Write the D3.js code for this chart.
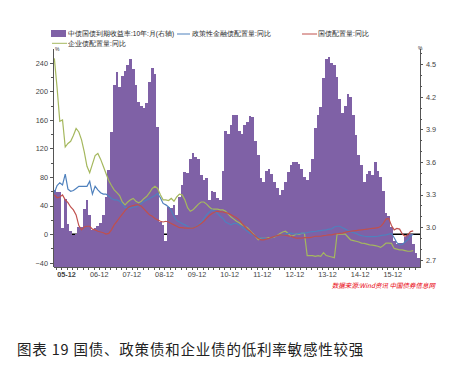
<!DOCTYPE html>
<html>
<head>
<meta charset="utf-8">
<script src="https://cdnjs.cloudflare.com/ajax/libs/d3/7.8.5/d3.min.js"></script>
<style>
body { margin: 0; background: #fff; }
text { font-family: "Liberation Sans", Arial, sans-serif; }
.cjk { font-family: "Noto Sans CJK SC", sans-serif; }
.axis path, .axis line { stroke: #555; shape-rendering: crispEdges; }
.axis text { fill: #444; font-size: 7.3px; }
</style>
</head>
<body>
<script>
// monthly data, first month = 2005-07
var startYear = 2005, startMonth = 7;

// 中债国债到期收益率:10年:月 (right axis, %)
var yield10y = [3.34,3.32,3.32,2.99,3.26,3.03,2.96,2.93,2.94,3.00,3.00,3.17,3.25,3.11,2.97,2.99,3.01,3.04,3.11,3.28,
  3.53,3.88,4.31,4.43,4.29,4.39,4.44,4.49,4.55,4.46,4.31,4.15,4.12,4.10,4.14,4.34,4.47,4.41,3.92,3.05,
  3.02,2.87,3.19,3.18,3.20,3.11,3.28,3.39,3.51,3.50,3.63,3.68,3.65,3.63,3.48,3.43,3.45,3.25,3.33,3.32,
  3.27,3.25,3.52,3.89,3.86,3.94,4.03,4.03,3.89,3.86,3.94,3.97,4.02,4.01,3.79,3.66,3.45,3.42,3.52,3.54,
  3.49,3.42,3.36,3.30,3.34,3.42,3.51,3.57,3.60,3.60,3.58,3.54,3.46,3.43,3.51,3.63,3.91,4.03,4.11,4.37,
  4.55,4.57,4.51,4.49,4.38,4.18,4.05,4.12,4.23,4.20,4.03,3.85,3.66,3.57,3.42,3.49,3.52,3.48,3.60,3.52,
  3.46,3.33,3.13,3.10,3.00,2.87,2.84,2.85,2.85,2.91,2.93,2.94,2.84,2.76,2.72];

// 政策性金融债配置量:同比 (left axis, %)
var policyBond = [58,68,72,69,84,63,60,61,64,67,67,67,67,74,56,67,62,58,56,56,
  53,50,48,48,46,42,37,37,36,38,38,40,43,46,48,50,52,54,57,51,
  43,41,38,33,25,19,17,15,13,11,9,9,10,13,17,22,27,31,34,32,
  29,25,22,17,15,13,15,15,13,10,7,4,1,-1,-3,-4,-5.6,-6,-6.6,-6,
  -5,-3,-2,-1.5,-0.5,0,1,1.4,0.5,0,1,1.4,1.4,2,3,3.5,3.7,4.5,5,5.5,
  6,7,7.4,10,11,11,9,7,5,3.5,2,1,-1,-2,-3,-3.5,-3.5,-3.5,-3.5,-3,
  -2,-1.5,-1,0,1,-5,-12,-15,-14.5,-11,-8,-3,0];

// 国债配置量:同比
var govBond = [55,51,52,55,48,44,38,34,27,12,6,10,11,11,7,6,4,3,2,0,
  1,6,13,18,23,28,33,37,39,40,41,41,39,35,31,27,25,22,20,18,
  17,18,17,15,13,11,9,9,8.5,8.4,8.4,8.4,10,12,15,18,22,26,29,31,
  32,31.5,31,30,29,27,25,23,20,15,11,7,4,0,-3,-6,-8,-8,-7,-6,
  -4.5,-3,-2,-1,-1.2,-1.6,-2.5,-3,-4.5,-5.6,-5.6,-5.5,-5,-5,-5,-4,-3,-3,-3,-2,
  -1.6,-1,-1,0,0.5,1,1.5,2.5,3.5,4,4.5,5,5.5,6,6.5,7,7.5,8,8.5,9,
  10.6,15,21,22,12,6,8,7,0,-3,-1,3.5,4.6];

// 企业债配置量:同比
var corpBond = [246,205,158,160,122,127,130,138,148,143,132,115,95,86,98,110,113,105,95,85,
  75,68,62,58,54,45,41,45,48,50,46,44,46,50,53,58,64,67,64,55,
  48,48,47,50,46,52,56,55,48,37,32,34,38,42,45,45,42,38,35,35,
  35,34,34,32,28,24,21,18,16,13,11,9,5,1,-3,-8,-6,-6,-6,-5,
  -5,-4,-2,1,3,4,1,-3,-2,0,0,1,1,-30,-30,-30,-31,-30,-31,-26,
  -30,-31,-32,-33,0,0,0,0,-4,-8,-9,-10,-11,-12.6,-13,-14,-15,-15.5,-16,-17,
  -18.6,-16,-12.6,-12.6,-13,-20,-21,-22,-22,-23,-24,-24,-23];

var xLabels = ["05-12","06-12","07-12","08-12","09-12","10-12","11-12","12-12","13-12","14-12","15-12"];
var leftTicks = [-40,0,40,80,120,160,200,240];
var rightTicks = [2.7,3.0,3.3,3.6,3.9,4.2,4.5];

var W = 459, H = 369;
var plotL = 53, plotR = 420, plotT = 48, plotB = 266.7;

var svg = d3.select("body").append("svg")
    .attr("width", W)
    .attr("height", H);

var x = d3.scaleLinear().domain([0, yield10y.length]).range([plotL, plotR]);
var yL = d3.scaleLinear().domain([-45.6, 260.6]).range([plotB, plotT]);
var yR = d3.scaleLinear().domain([2.6355, 4.650]).range([plotB, plotT]);

function monthIndex(label) {
  var yy = 2000 + (+label.slice(0, 2)), mm = +label.slice(3);
  return (yy - startYear) * 12 + (mm - startMonth);
}

// zero line of the left axis, sits behind the bars
svg.append("line")
    .attr("x1", plotL).attr("x2", plotR)
    .attr("y1", yL(0)).attr("y2", yL(0))
    .style("stroke", "#000")
    .style("stroke-width", 1.5);

// bars (snapped to whole pixels so neighbours touch)
svg.selectAll(".bar")
    .data(yield10y)
  .enter().append("rect")
    .attr("class", "bar")
    .attr("x", function(d, i) { return Math.round(x(i)); })
    .attr("width", function(d, i) { return Math.round(x(i + 1)) - Math.round(x(i)); })
    .attr("y", function(d) { return yR(d); })
    .attr("height", function(d) { return plotB - yR(d); })
    .style("fill", "#7f61a6")
    .style("shape-rendering", "crispEdges");

// lines
var series = [
  {data: corpBond, color: "#a5b85e"},
  {data: policyBond, color: "#4f81bd"},
  {data: govBond, color: "#c0504d"}
];

var line = d3.line()
    .x(function(d, i) { return x(i + 0.5); })
    .y(function(d) { return yL(d); });

series.forEach(function(s) {
  svg.append("path")
      .datum(s.data)
      .attr("d", line)
      .style("fill", "none")
      .style("stroke", s.color)
      .style("stroke-width", 1.2);
});

// axes
var minorL = d3.range(-40, 260, 20).filter(function(v) { return leftTicks.indexOf(v) < 0; });
svg.append("g")
    .attr("class", "axis")
    .attr("transform", "translate(" + plotL + ",0)")
    .call(d3.axisLeft(yL).tickValues(minorL).tickSize(2).tickSizeOuter(0).tickFormat(""));
svg.append("g")
    .attr("class", "axis")
    .attr("transform", "translate(" + plotL + ",0)")
    .call(d3.axisLeft(yL).tickValues(leftTicks).tickSize(3).tickSizeOuter(0).tickPadding(2));

var minorR = [2.8,2.9,3.1,3.2,3.4,3.5,3.7,3.8,4.0,4.1,4.3,4.4,4.6];
svg.append("g")
    .attr("class", "axis")
    .attr("transform", "translate(" + plotR + ",0)")
    .call(d3.axisRight(yR).tickValues(minorR).tickSize(2).tickSizeOuter(0).tickFormat(""));
svg.append("g")
    .attr("class", "axis")
    .attr("transform", "translate(" + plotR + ",0)")
    .call(d3.axisRight(yR).tickValues(rightTicks).tickSize(3).tickSizeOuter(0).tickPadding(3)
      .tickFormat(d3.format(".1f")));

var xTicks = d3.range(1, yield10y.length, 2);
var xAxis = svg.append("g")
    .attr("class", "axis")
    .attr("transform", "translate(0," + plotB + ")")
    .call(d3.axisBottom(x).tickValues(xTicks).tickSize(3).tickSizeOuter(0).tickFormat(""));
xAxis.select(".domain").style("stroke-width", 1.2);

svg.selectAll(".xlabel")
    .data(xLabels)
  .enter().append("text")
    .attr("class", "xlabel")
    .attr("x", function(d) { return x(monthIndex(d)); })
    .attr("y", 277)
    .style("text-anchor", "middle")
    .style("font-size", "7.3px")
    .style("fill", "#444")
    .style("font-weight", function(d, i) { return i === 0 ? "bold" : "normal"; })
    .text(function(d) { return d; });

svg.append("text").attr("x", plotL + 2).attr("y", 51)
    .style("font-size", "5px").style("fill", "#333").text("%");
svg.append("text").attr("x", plotR - 2).attr("y", 50)
    .style("font-size", "5px").style("fill", "#333").text("%");

// legend
var lg = svg.append("g").attr("class", "cjk").style("font-size", "6.5px").style("fill", "#222");
lg.append("rect").attr("x", 51).attr("y", 30).attr("width", 15).attr("height", 7).style("fill", "#7f61a6");
lg.append("text").attr("x", 68).attr("y", 36.3).text("中债国债到期收益率:10年:月(右轴)");
lg.append("line").attr("x1", 177).attr("x2", 190).attr("y1", 34).attr("y2", 34)
    .style("stroke", "#4f81bd").style("stroke-width", 1);
lg.append("text").attr("x", 192).attr("y", 36.3).text("政策性金融债配置量:同比");
lg.append("line").attr("x1", 302).attr("x2", 317).attr("y1", 34).attr("y2", 34)
    .style("stroke", "#c0504d").style("stroke-width", 1);
lg.append("text").attr("x", 318).attr("y", 36.3).text("国债配置量:同比");
lg.append("line").attr("x1", 52).attr("x2", 67).attr("y1", 43.3).attr("y2", 43.3)
    .style("stroke", "#a5b85e").style("stroke-width", 1);
lg.append("text").attr("x", 68).attr("y", 45.6).text("企业债配置量:同比");

// source note
svg.append("text")
    .attr("class", "cjk")
    .attr("x", 435).attr("y", 288)
    .style("text-anchor", "end")
    .style("font-size", "6.5px")
    .style("font-style", "italic")
    .style("fill", "#e8000b")
    .text("数据来源:Wind资讯 中国债券信息网");

// caption
svg.append("text")
    .attr("class", "cjk")
    .attr("x", 17).attr("y", 355)
    .style("font-size", "14.5px")
    .style("letter-spacing", "0.8px")
    .style("fill", "#222")
    .text("图表 19  国债、政策债和企业债的低利率敏感性较强");
</script>
</body>
</html>
